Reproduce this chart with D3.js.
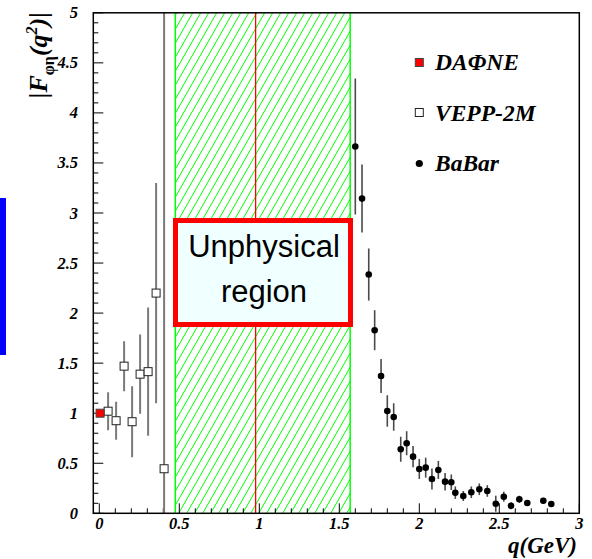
<!DOCTYPE html>
<html>
<head>
<meta charset="utf-8">
<script src="https://cdn.jsdelivr.net/npm/d3@7"></script>
<style>
  html, body { margin: 0; padding: 0; background: #fff; }
  svg { display: block; }
</style>
</head>
<body>
<svg id="chart" width="592" height="559"></svg>
<script>
// |F_phi-eta(q^2)| transition form factor versus q

// DAPHNE point
const daphneQ = [0.005];
const daphneF = [1.0];

// VEPP-2M points (symmetric errors)
const veppQ   = [0.055, 0.105, 0.155, 0.205, 0.255, 0.305, 0.355, 0.405];
const veppF   = [1.02, 0.925, 1.47, 0.915, 1.39, 1.415, 2.2, 0.445];
const veppErr = [0.19, 0.19, 0.25, 0.355, 0.395, 0.64, 1.1, 4.8];

// BaBar points (symmetric errors)
const babarQ = [1.600, 1.642, 1.684, 1.721, 1.761, 1.800, 1.840, 1.884, 1.921, 1.961,
                2.000, 2.040, 2.079, 2.119, 2.161, 2.200, 2.225, 2.275, 2.325, 2.375,
                2.425, 2.478, 2.528, 2.573, 2.625, 2.675, 2.775, 2.825];
const babarF = [3.664, 3.144, 2.385, 1.829, 1.372, 1.022, 0.962, 0.640, 0.700, 0.566,
                0.443, 0.456, 0.343, 0.433, 0.316, 0.310, 0.206, 0.173, 0.210, 0.240,
                0.223, 0.096, 0.166, 0.076, 0.140, 0.103, 0.126, 0.093];
const babarErr = [0.68, 0.34, 0.26, 0.20, 0.17, 0.157, 0.137, 0.125, 0.12, 0.107,
                  0.10, 0.10, 0.105, 0.09, 0.087, 0.078, 0.062, 0.05, 0.058, 0.058,
                  0.058, 0.08, 0.05, 0.035, 0.035, 0.03, 0.03, 0.03];

// Unphysical band and the line inside it (q in GeV)
const bandRange = [0.475, 1.568];
const innerLineQ = 0.977;

const xTicks = [0, 0.5, 1, 1.5, 2, 2.5, 3];
const xTickLabels = ["0", "0.5", "1", "1.5", "2", "2.5", "3"];
const yTicks = [0, 0.5, 1, 1.5, 2, 2.5, 3, 3.5, 4, 4.5, 5];
const yTickLabels = ["0", "0.5", "1", "1.5", "2", "2.5", "3", "3.5", "4", "4.5", "5"];

const legendNames = ["DAΦNE", "VEPP-2M", "BaBar"];

const svg = d3.select("#chart");
const frame = { left: 93.3, right: 579.3, top: 12.8, bottom: 513.3 };

const x = d3.scaleLinear().domain([-0.0375, 3]).range([frame.left, frame.right]);
const y = d3.scaleLinear().domain([0, 5]).range([frame.bottom, frame.top]);

const serif = "'Liberation Serif', 'Times New Roman', serif";
const sans = "'Liberation Sans', Arial, sans-serif";

// blue marker bar on the far left
svg.append("rect").attr("x", 0).attr("y", 198).attr("width", 6).attr("height", 157)
  .attr("fill", "#0000ff");

// hatch pattern for the band
const defs = svg.append("defs");
const pat = defs.append("pattern").attr("id", "hatch")
  .attr("patternUnits", "userSpaceOnUse").attr("width", 8).attr("height", 14);
pat.append("path").attr("d", "M0,14 L8,0 M-2,3.5 L2,-3.5 M6,17.5 L10,10.5")
  .attr("stroke", "#00ff00").attr("stroke-width", 1).attr("fill", "none");

svg.append("rect")
  .attr("x", x(bandRange[0])).attr("y", y(5))
  .attr("width", x(bandRange[1]) - x(bandRange[0]))
  .attr("height", y(0) - y(5))
  .attr("fill", "url(#hatch)");
bandRange.forEach(q => {
  svg.append("line").attr("x1", x(q)).attr("x2", x(q)).attr("y1", y(5)).attr("y2", y(0))
    .attr("stroke", "#00ff00").attr("stroke-width", 1.5);
});
svg.append("line").attr("x1", x(innerLineQ)).attr("x2", x(innerLineQ))
  .attr("y1", y(5)).attr("y2", y(0)).attr("stroke", "#ff0000").attr("stroke-width", 1.3);

// axes ticks
const axisG = svg.append("g");
d3.range(0, 3.001, 0.1).forEach(v => {
  const major = Math.abs(v * 2 - Math.round(v * 2)) < 1e-6;
  axisG.append("line").attr("x1", x(v)).attr("x2", x(v))
    .attr("y1", frame.bottom).attr("y2", frame.bottom - (major ? 10 : 5))
    .attr("stroke", "#000").attr("stroke-width", 1);
});
d3.range(0, 5.001, 0.1).forEach(v => {
  const major = Math.abs(v * 2 - Math.round(v * 2)) < 1e-6;
  axisG.append("line").attr("y1", y(v)).attr("y2", y(v))
    .attr("x1", frame.left).attr("x2", frame.left + (major ? 10 : 5))
    .attr("stroke", "#000").attr("stroke-width", 1);
});

// tick labels
xTicks.forEach((v, i) => {
  svg.append("text").attr("x", x(v)).attr("y", 529)
    .attr("text-anchor", "middle")
    .attr("font-family", serif).attr("font-weight", "bold").attr("font-style", "italic")
    .attr("font-size", 16.5).text(xTickLabels[i]);
});
yTicks.forEach((v, i) => {
  svg.append("text").attr("x", 78).attr("y", y(v) + 5.5)
    .attr("text-anchor", "end")
    .attr("font-family", serif).attr("font-weight", "bold").attr("font-style", "italic")
    .attr("font-size", 16.5).text(yTickLabels[i]);
});

// axis titles
svg.append("text").attr("x", 577).attr("y", 553).attr("text-anchor", "end")
  .attr("font-family", serif).attr("font-weight", "bold").attr("font-style", "italic")
  .attr("font-size", 23).text("q(GeV)");

const yTitle = svg.append("text")
  .attr("transform", "translate(47,12) rotate(-90)")
  .attr("text-anchor", "end")
  .attr("font-family", serif).attr("font-weight", "bold").attr("font-style", "italic")
  .attr("font-size", 26);
yTitle.append("tspan").text("|F");
yTitle.append("tspan").attr("font-size", 16).attr("font-style", "normal").attr("dy", 7).text("φη");
yTitle.append("tspan").attr("dy", -7).text("(q");
yTitle.append("tspan").attr("font-size", 16).attr("dy", -10).text("2");
yTitle.append("tspan").attr("dy", 10).text(")|");

// clip data to the frame
defs.append("clipPath").attr("id", "frameClip").append("rect")
  .attr("x", frame.left).attr("y", frame.top)
  .attr("width", frame.right - frame.left).attr("height", frame.bottom - frame.top);
const plot = svg.append("g").attr("clip-path", "url(#frameClip)");

// VEPP-2M error bars
veppQ.forEach((q, i) => {
  plot.append("line").attr("x1", x(q)).attr("x2", x(q))
    .attr("y1", y(veppF[i] + veppErr[i])).attr("y2", y(veppF[i] - veppErr[i]))
    .attr("stroke", "#7a7a7a").attr("stroke-width", 2);
});
// BaBar error bars
babarQ.forEach((q, i) => {
  plot.append("line").attr("x1", x(q)).attr("x2", x(q))
    .attr("y1", y(babarF[i] + babarErr[i])).attr("y2", y(babarF[i] - babarErr[i]))
    .attr("stroke", "#4a4a4a").attr("stroke-width", 1.6);
});
// markers
veppQ.forEach((q, i) => {
  plot.append("rect").attr("x", x(q) - 4).attr("y", y(veppF[i]) - 4)
    .attr("width", 8).attr("height", 8)
    .attr("fill", "#fff").attr("stroke", "#222").attr("stroke-width", 1);
});
daphneQ.forEach((q, i) => {
  plot.append("rect").attr("x", x(q) - 4).attr("y", y(daphneF[i]) - 4)
    .attr("width", 8).attr("height", 8)
    .attr("fill", "#ff0000").attr("stroke", "#444").attr("stroke-width", 1);
});
babarQ.forEach((q, i) => {
  plot.append("circle").attr("cx", x(q)).attr("cy", y(babarF[i])).attr("r", 3.3)
    .attr("fill", "#000");
});

// frame
svg.append("rect").attr("x", frame.left).attr("y", frame.top)
  .attr("width", frame.right - frame.left).attr("height", frame.bottom - frame.top)
  .attr("fill", "none").attr("stroke", "#000").attr("stroke-width", 1.5);

// "Unphysical region" box
svg.append("rect").attr("x", 175.5).attr("y", 220.5).attr("width", 175).attr("height", 104)
  .attr("fill", "#f0ffff").attr("stroke", "#ff0000").attr("stroke-width", 5);
svg.append("text").attr("x", 264).attr("y", 257).attr("text-anchor", "middle")
  .attr("font-family", sans).attr("font-size", 31).attr("fill", "#000").text("Unphysical");
svg.append("text").attr("x", 264).attr("y", 302).attr("text-anchor", "middle")
  .attr("font-family", sans).attr("font-size", 31).attr("fill", "#000").text("region");

// legend
const legY = [62.5, 112.5, 163.5];
const legBase = [70, 121, 171];
svg.append("rect").attr("x", 419.3 - 4).attr("y", legY[0] - 4).attr("width", 8).attr("height", 8)
  .attr("fill", "#ff0000").attr("stroke", "#444").attr("stroke-width", 1);
svg.append("rect").attr("x", 419.3 - 4).attr("y", legY[1] - 4).attr("width", 8).attr("height", 8)
  .attr("fill", "#fff").attr("stroke", "#222").attr("stroke-width", 1);
svg.append("circle").attr("cx", 419.3).attr("cy", legY[2]).attr("r", 3.6).attr("fill", "#000");
legendNames.forEach((name, i) => {
  svg.append("text").attr("x", 435).attr("y", legBase[i])
    .attr("font-family", serif).attr("font-weight", "bold").attr("font-style", "italic")
    .attr("font-size", 23.5).text(name);
});
</script>
</body>
</html>
